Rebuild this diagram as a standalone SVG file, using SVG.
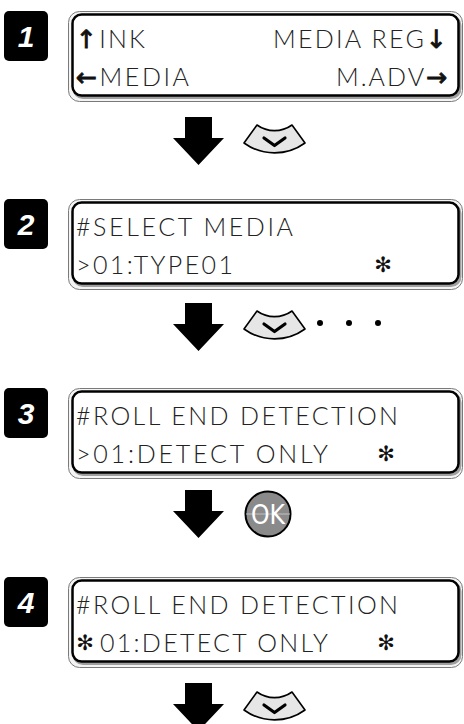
<svg xmlns="http://www.w3.org/2000/svg" width="464" height="724" viewBox="0 0 464 724">
<style>
.lcd{font-family:Lato,"DejaVu Sans",sans-serif;font-weight:300;font-size:25px;fill:#222}
.ar{font-family:"DejaVu Sans",sans-serif;font-weight:normal;fill:#111;stroke:#111;stroke-width:0.9}
.star{font-family:"DejaVu Sans",sans-serif;font-size:21px;fill:#111;text-anchor:middle}
.badge{fill:#000}
.num{font-family:"Liberation Sans",Arial,sans-serif;font-weight:bold;font-style:italic;font-size:30px;fill:#fff;text-anchor:middle}
.outer{fill:#f4f4f4;stroke:#7a7a7a;stroke-width:1}
.shadow{fill:none;stroke:#a0a0a0;stroke-width:3}
.inner{fill:#fff;stroke:#000;stroke-width:2.5}
.arrow{fill:#000}
.key{fill:#e6e6e6;stroke:#000;stroke-width:1.6;stroke-linejoin:round}
.chev{fill:none;stroke:#000;stroke-width:3.2;stroke-linecap:round;stroke-linejoin:round}
</style>
<defs>
<g id="lcdframe">
<rect class="outer" x="68.5" y="0.5" width="394" height="90" rx="11"/>
<rect class="shadow" x="74" y="5.5" width="386" height="81" rx="9"/>
<rect class="inner" x="72.5" y="3.5" width="386" height="81" rx="9"/>
</g>
<g id="downkey">
<path class="key" d="M257 0 A30 30 0 0 0 292 0 L305 18 A52 52 0 0 1 244 18 Z"/>
<path class="chev" d="M264 13 L274.5 20.5 L285 13"/>
</g>
<path id="bigarrow" class="arrow" d="M185 0 H212 V21 H224 L198.5 48 L173 21 H185 Z"/>
</defs>

<g id="step1">
<rect class="badge" x="4" y="11" width="44" height="50" rx="5"/>
<text class="num" x="26" y="47">1</text>
<use href="#lcdframe" y="11"/>
<text class="lcd" x="76" y="48" textLength="69" lengthAdjust="spacing"><tspan class="ar">↑</tspan>INK</text>
<text class="lcd" x="273" y="48" textLength="174" lengthAdjust="spacing">MEDIA REG<tspan class="ar">↓</tspan></text>
<text class="lcd" x="76" y="86" textLength="113" lengthAdjust="spacing"><tspan class="ar">←</tspan>MEDIA</text>
<text class="lcd" x="336" y="86" textLength="111" lengthAdjust="spacing">M.ADV<tspan class="ar">→</tspan></text>
</g>

<g id="step2">
<rect class="badge" x="4" y="199" width="44" height="50" rx="5"/>
<text class="num" x="26" y="235">2</text>
<use href="#lcdframe" y="199"/>
<text class="lcd" x="76" y="236" textLength="217" lengthAdjust="spacing">#SELECT MEDIA</text>
<text class="lcd" x="76" y="274" textLength="157" lengthAdjust="spacing">&gt;01:TYPE01</text>
<text class="star" x="383" y="272">✻</text>
</g>

<g id="step3">
<rect class="badge" x="4" y="388" width="44" height="50" rx="5"/>
<text class="num" x="26" y="424">3</text>
<use href="#lcdframe" y="388"/>
<text class="lcd" x="76" y="425" textLength="322" lengthAdjust="spacing">#ROLL END DETECTION</text>
<text class="lcd" x="76" y="463" textLength="252" lengthAdjust="spacing">&gt;01:DETECT ONLY</text>
<text class="star" x="386" y="461">✻</text>
</g>

<g id="step4">
<rect class="badge" x="4" y="577" width="44" height="50" rx="5"/>
<text class="num" x="26" y="613">4</text>
<use href="#lcdframe" y="577"/>
<text class="lcd" x="76" y="614" textLength="322" lengthAdjust="spacing">#ROLL END DETECTION</text>
<text class="star" x="85" y="650">✻</text>
<text class="lcd" x="100" y="652" textLength="228" lengthAdjust="spacing">01:DETECT ONLY</text>
<text class="star" x="386" y="650">✻</text>
</g>

<g id="connectors">
<use href="#bigarrow" y="117"/>
<use href="#downkey" y="125"/>
<use href="#bigarrow" y="303"/>
<use href="#downkey" y="311"/>
<circle cx="320" cy="323" r="3"/>
<circle cx="349" cy="323" r="3"/>
<circle cx="378" cy="323" r="3"/>
<use href="#bigarrow" y="490"/>
<circle cx="268" cy="514" r="22.5" fill="#8a8a8a" stroke="#000" stroke-width="2"/>
<line x1="246" y1="514" x2="290" y2="514" stroke="#cfcfcf" stroke-width="0.8"/>
<text x="268" y="524" text-anchor="middle" font-family="'DejaVu Sans',sans-serif" font-size="26" fill="#fff" textLength="34" lengthAdjust="spacingAndGlyphs">OK</text>
<use href="#bigarrow" y="683"/>
<use href="#downkey" y="692"/>
</g>
</svg>
